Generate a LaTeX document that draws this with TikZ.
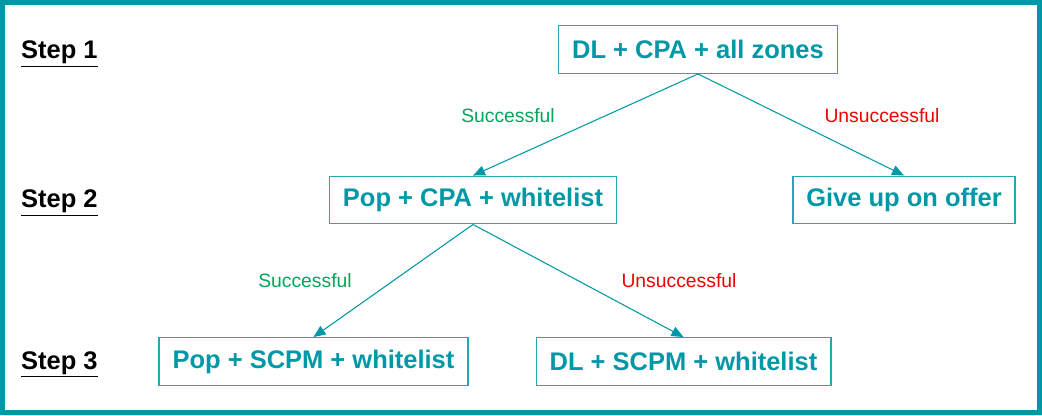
\documentclass[tikz,border=0pt]{standalone}
\usepackage{fontspec}
\setmainfont{Liberation Sans}
\usepackage{tikz}
\usetikzlibrary{arrows.meta, positioning}
\definecolor{figT}{RGB}{0,152,166}
\definecolor{figG}{RGB}{0,166,90}
\definecolor{figR}{RGB}{240,0,0}
\tikzset{stepbox/.style={draw=figT!85, line width=0.8pt, text=figT, font=\fontsize{14.5}{16}\selectfont\bfseries,
  inner xsep=0.27cm, minimum height=0.95cm},
  steplabel/.style={anchor=west, font=\fontsize{14.5}{16}\selectfont\bfseries},
  flow/.style={-{Triangle[length=2.4mm, width=2mm]}, figT, line width=0.6pt},
  okay/.style={figG, font=\fontsize{11}{13}\selectfont},
  fail/.style={figR, font=\fontsize{11}{13}\selectfont}}
\begin{document}
\begin{tikzpicture}
\useasboundingbox (0,0) rectangle (20.84,8.30);
% ===== frame =====
\draw[figT, line width=0.1cm] (0.05,0.05) rectangle (20.79,8.25);
% ===== step labels =====
\node[steplabel] (s1) at (0.30,7.22) {\underline{Step 1}};
\node[steplabel] (s2) at (0.30,4.24) {\underline{Step 2}};
\node[steplabel] (s3) at (0.30,1.01) {\underline{Step 3}};
% ===== boxes =====
\node[stepbox] (dl) at (13.96,7.31) {DL + CPA + all zones};
\node[stepbox] (pop) at (9.46,4.30) {Pop + CPA + whitelist};
\node[stepbox] (give) at (18.08,4.30) {Give up on offer};
\node[stepbox] (popscpm) at (6.27,1.07) {Pop + SCPM + whitelist};
\node[stepbox] (dlscpm) at (13.67,1.07) {DL + SCPM + whitelist};
% ===== connectors =====
\draw[flow] (dl.south) -- (pop.north);
\draw[flow] (dl.south) -- (give.north);
\draw[flow] (pop.south) -- (popscpm.north);
\draw[flow] (pop.south) -- (dlscpm.north);
% outcome labels
\node[okay] (ok1) at (10.16,5.98) {Successful};
\node[fail] (no1) at (17.64,5.98) {Unsuccessful};
\node[okay] (ok2) at (6.10,2.68) {Successful};
\node[fail] (no2) at (13.58,2.68) {Unsuccessful};
\end{tikzpicture}
\end{document}
